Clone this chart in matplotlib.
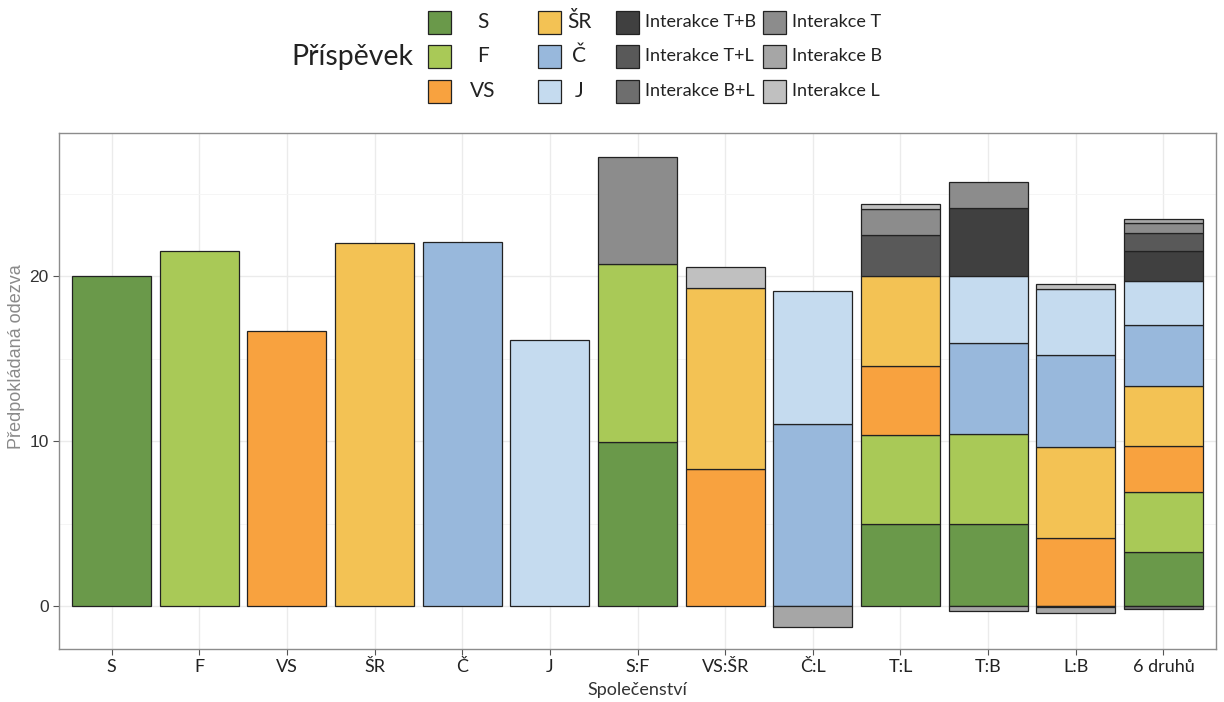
import numpy as np
import matplotlib
matplotlib.use('Agg')
import matplotlib.pyplot as plt
from matplotlib.patches import Rectangle
from matplotlib.ticker import MultipleLocator

categories = ['S', 'F', 'VS', 'ŠR', 'Č', 'J', 'S:F', 'VS:ŠR', 'Č:L', 'T:L', 'T:B', 'L:B', '6 druhů']

# contribution of each component to each community (bottom -> top)
s_vals  = [20.0, 0, 0, 0, 0, 0, 9.97, 0, 0, 4.97, 4.97, 0, 3.28]
f_vals  = [0, 21.52, 0, 0, 0, 0, 10.8, 0, 0, 5.43, 5.47, 0, 3.65]
vs_vals = [0, 0, 16.66, 0, 0, 0, 0, 8.31, 0, 4.13, 0, 4.15, 2.76]
sr_vals = [0, 0, 0, 22.0, 0, 0, 0, 11.0, 0, 5.47, 0, 5.47, 3.68]
c_vals  = [0, 0, 0, 0, 22.07, 0, 0, 0, 11.02, 0, 5.51, 5.62, 3.65]
j_vals  = [0, 0, 0, 0, 0, 16.11, 0, 0, 8.07, 0, 4.09, 4.0, 2.70]
tb_vals = [0, 0, 0, 0, 0, 0, 0, 0, 0, 0, 4.1, 0, 1.82]
tl_vals = [0, 0, 0, 0, 0, 0, 0, 0, 0, 2.49, 0, 0, 1.11]
bl_vals = [0, 0, 0, 0, 0, 0, 0, 0, 0, 0, 0, -0.06, -0.2]
t_vals  = [0, 0, 0, 0, 0, 0, 6.48, 0, 0, 1.62, 1.58, 0, 0.61]
b_vals  = [0, 0, 0, 0, 0, 0, 0, 0, -1.28, 0, -0.3, -0.35, 0.2]
l_vals  = [0, 0, 0, 0, 0, 0, 0, 1.28, 0, 0.3, 0, 0.31, 0]

labels = ['S', 'F', 'VS', 'ŠR', 'Č', 'J',
          'Interakce T+B', 'Interakce T+L', 'Interakce B+L',
          'Interakce T', 'Interakce B', 'Interakce L']
series = [s_vals, f_vals, vs_vals, sr_vals, c_vals, j_vals,
          tb_vals, tl_vals, bl_vals, t_vals, b_vals, l_vals]
colors = ['#6a994a', '#a9c957', '#f8a23f', '#f3c254', '#98b8dc', '#c5dbef',
          '#404040', '#595959', '#6e6e6e', '#8c8c8c', '#a6a6a6', '#c0c0c0']

W, H = 1224.0, 702.0
fig = plt.figure(figsize=(12.24, 7.02), dpi=100)
ax = fig.add_axes([59 / W, 53 / H, 1157 / W, 516 / H])

x = np.arange(len(categories))
pos = np.zeros(len(categories))
neg = np.zeros(len(categories))
for vals, col in zip(series, colors):
    v = np.array(vals, dtype=float)
    up = np.where(v > 0, v, 0)
    dn = np.where(v < 0, v, 0)
    m = up > 0
    ax.bar(x[m], up[m], bottom=pos[m], width=0.9, color=col,
           edgecolor='#222222', linewidth=0.9, zorder=3)
    m = dn < 0
    ax.bar(x[m], dn[m], bottom=neg[m], width=0.9, color=col,
           edgecolor='#222222', linewidth=0.9, zorder=3)
    pos += up
    neg += dn

ax.set_xlim(-0.6, 12.6)
ax.set_ylim(-2.61, 28.69)
ax.set_xticks(x)
ax.set_xticklabels(categories, family='Lato', fontsize=13, color='#222222')
ax.yaxis.set_major_locator(MultipleLocator(10))
ax.yaxis.set_minor_locator(MultipleLocator(5))
ax.set_yticks([0, 10, 20])
for t in ax.get_yticklabels():
    t.set_family('Liberation Sans')
    t.set_fontsize(12.5)
    t.set_color('#333333')
ax.tick_params(axis='both', which='major', length=4, color='#555555', width=0.8)
ax.tick_params(axis='y', which='minor', length=0)
ax.grid(which='major', color='#ebebeb', linewidth=1.0, zorder=0)
ax.grid(which='minor', axis='y', color='#f4f4f4', linewidth=0.6, zorder=0)
ax.set_axisbelow(True)
for sp in ax.spines.values():
    sp.set_color('#8c8c8c')
    sp.set_linewidth(1.0)

ax.set_xlabel('Společenství', family='Lato', fontsize=13, color='#333333', labelpad=5)
fig.text(17 / W, 1 - 357 / H, 'Předpokládaná odezva', family='Liberation Sans',
         fontsize=13, color='#8a8a8a', rotation=90, ha='center', va='center')

# legend drawn by hand: title on the left, 4 columns x 3 rows
fig.text(291 / W, 1 - 57 / H, 'Příspěvek', family='Lato', fontsize=20.5,
         ha='left', va='center', color='#222222')
col_sq = [428, 538, 616, 763]
row_y = [22, 56, 91]
sq = 23
for i, (lab, col) in enumerate(zip(labels, colors)):
    c, r = divmod(i, 3)
    x0 = col_sq[c]
    y0 = row_y[r]
    fig.patches.append(Rectangle((x0 / W, 1 - (y0 + sq / 2) / H), sq / W, sq / H,
                                 transform=fig.transFigure, facecolor=col,
                                 edgecolor='#222222', linewidth=0.9))
    if c < 2:
        cx = [483, 579][c]
        fig.text(cx / W, 1 - y0 / H, lab, family='Lato', fontsize=15,
                 ha='center', va='center', color='#222222')
    else:
        fig.text((x0 + sq + 6) / W, 1 - y0 / H, lab, family='Lato', fontsize=13,
                 ha='left', va='center', color='#222222')

fig.savefig('out.png', dpi=100)
